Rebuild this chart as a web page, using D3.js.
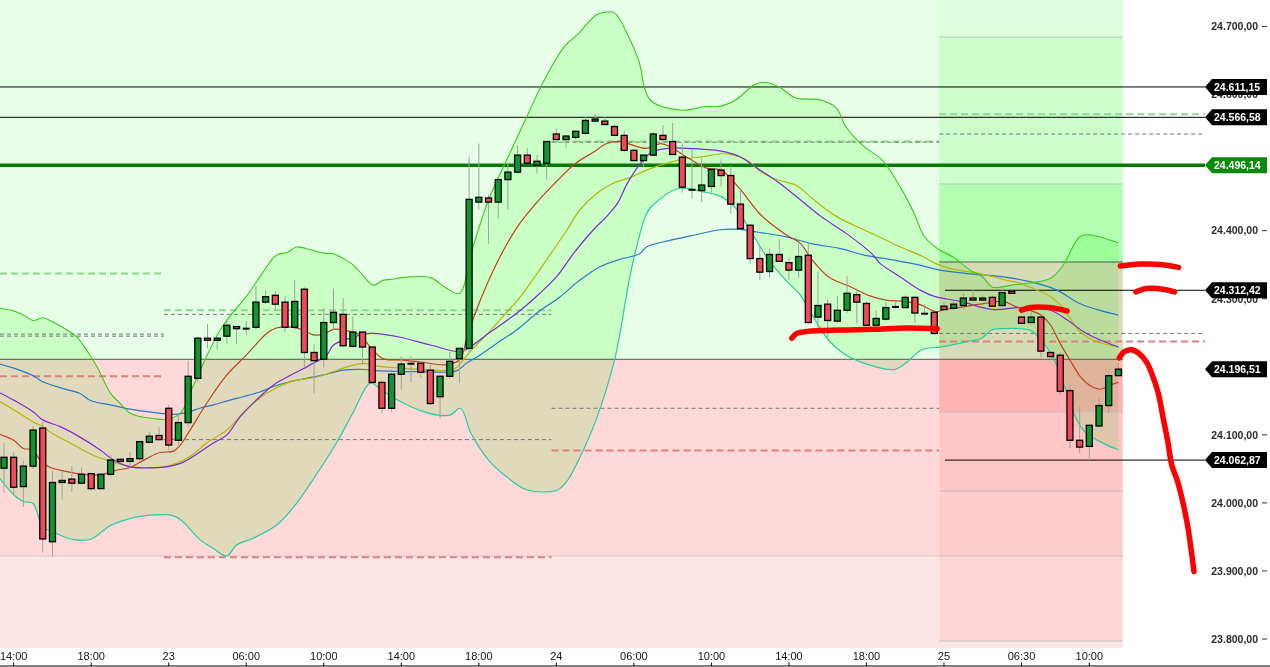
<!DOCTYPE html>
<html><head><meta charset="utf-8">
<script src="https://cdn.jsdelivr.net/npm/d3@7"></script>
<style>
body{margin:0;background:#fff}
svg{display:block}
text{font-family:"Liberation Sans",Arial,sans-serif}
</style>
</head><body>
<svg id="c" width="1270" height="667"></svg>
<script>
// ---------------- DATA ----------------
const timeLabels = ["14:00","18:00","23","06:00","10:00","14:00","18:00","24","06:00","10:00","14:00","18:00","25","06:30","10:00"];
const timeTickIdx = [1,9,17,25,33,41,49,57,65,73,81,89,97,105,112];
const priceTicks = [23800,23900,24000,24100,24300,24400,24600,24700];

const opens  = [24051,24067,24024,24054,24110,23943,24030,24035,24029,24043,24021,24042,24064,24061,24065,24089,24099,24139,24092,24118,
 24183,24242,24239,24245,24259,24256,24258,24295,24305,24295,24258,24314,24221,24211,24265,24277,24230,24251,24229,24177,
 24139,24189,24204,24205,24195,24156,24186,24212,24227,24442,24448,24442,24475,24486,24511,24496,24499,24542,24534,24537,
 24543,24561,24561,24553,24540,24518,24503,24511,24540,24531,24508,24460,24459,24465,24489,24481,24439,24408,24359,24340,
 24365,24353,24342,24364,24273,24292,24267,24283,24306,24293,24261,24270,24288,24287,24302,24278,24280,24289,24286,24290,
 24301,24298,24302,24290,24311,24273,24265,24273,24221,24217,24165,24092,24083,24113,24143,24187];
const highs  = [24088,24075,24062,24113,24119,24047,24046,24054,24052,24044,24044,24070,24066,24075,24092,24105,24111,24144,24128,24209,
 24244,24263,24243,24269,24260,24267,24319,24312,24312,24304,24327,24317,24233,24286,24315,24301,24274,24252,24230,24178,
 24190,24215,24215,24206,24203,24187,24222,24228,24509,24528,24453,24477,24499,24525,24521,24511,24532,24550,24540,24547,
 24567,24571,24567,24556,24547,24521,24512,24545,24555,24558,24528,24519,24508,24491,24505,24495,24461,24409,24378,24374,
 24387,24361,24381,24381,24339,24299,24304,24333,24315,24296,24283,24295,24295,24305,24303,24292,24281,24296,24296,24308,
 24314,24305,24305,24315,24313,24275,24281,24274,24222,24221,24173,24141,24115,24154,24188,24205];
const lows   = [24015,24012,23994,24050,23927,23921,24005,24016,24027,24018,24020,24038,24059,24051,24062,24087,24092,24078,24085,24112,
 24178,24227,24225,24234,24233,24246,24255,24292,24283,24251,24255,24199,24161,24199,24254,24229,24228,24203,24175,24132,
 24134,24166,24177,24184,24144,24124,24183,24176,24222,24431,24381,24418,24431,24484,24498,24484,24475,24533,24522,24534,
 24541,24560,24555,24539,24515,24502,24493,24510,24533,24511,24456,24447,24442,24456,24465,24425,24402,24351,24327,24331,
 24354,24328,24331,24263,24254,24239,24265,24279,24264,24259,24259,24268,24285,24286,24264,24276,24247,24283,24283,24284,
 24297,24297,24288,24289,24307,24262,24264,24214,24214,24159,24080,24073,24063,24112,24132,24186];
const closes = [24067,24023,24054,24107,23947,24030,24033,24029,24042,24021,24042,24063,24061,24065,24090,24098,24093,24085,24118,24186,
 24242,24239,24242,24261,24256,24256,24295,24303,24292,24258,24296,24221,24209,24265,24280,24231,24251,24229,24177,24139,
 24189,24204,24205,24192,24146,24186,24208,24227,24446,24449,24442,24475,24486,24511,24499,24502,24531,24534,24539,24546,
 24562,24564,24556,24540,24518,24503,24511,24542,24534,24512,24464,24460,24467,24490,24481,24439,24403,24359,24339,24365,
 24355,24342,24362,24265,24290,24268,24283,24308,24295,24261,24271,24287,24288,24302,24279,24278,24249,24284,24292,24301,
 24298,24301,24289,24309,24308,24264,24273,24223,24215,24164,24092,24082,24114,24143,24187,24196.51];

// indicator readings: [candle index, price]
const bbUpper = [[-0.45,24286],[1,24282],[2,24276],[3,24268],[4,24272],[5,24266],[6.5,24254],[7.5,24244],[8.5,24225],[9.6,24200],[11,24161],[12,24146],[13,24132],[14,24127],[15.4,24124],[16.8,24123],[18.2,24132],[19.5,24171],[20.9,24215],[22.3,24254],[23.7,24281],[25,24303],[26.4,24332],[28.1,24364],[29.2,24368],[30.2,24376],[31.6,24372],[33,24367],[34,24366],[35,24359],[36,24350],[37,24335],[38.1,24320],[39.1,24327],[40.2,24329],[41,24331],[44,24331],[45.5,24317],[47,24308],[48.2,24367],[50,24445],[52,24508],[53.8,24563],[55.6,24617],[57.8,24670],[59.3,24690],[61.1,24717],[62,24721],[63,24720],[64.5,24684],[65.5,24650],[66.7,24592],[70,24577],[72.2,24582],[74,24583],[75.5,24592],[77.4,24614],[78.4,24618],[80,24611],[81.7,24595],[84.3,24592],[85.9,24580],[86.9,24552],[88.8,24523],[90.6,24504],[92.5,24464],[93.9,24426],[95,24391],[96.5,24372],[98,24361],[99.7,24342],[101,24332],[102,24317],[104,24320],[105.9,24323],[108,24330],[109.2,24347],[111,24391],[111.9,24394],[115,24382]];
const bbLower = [[-0.45,24036],[1,24012],[2,24002],[3,23999],[4,23965],[5.4,23955],[7.2,23946],[9,23947],[11,23967],[13,23977],[14.4,23981],[17.5,23981],[18.5,23972],[20.2,23946],[21.6,23933],[23,23922],[24,23938],[25.7,23948],[28.1,23967],[29.9,23994],[32.3,24043],[34.3,24088],[36,24132],[37.8,24176],[38.8,24168],[40,24156],[43.8,24132],[46,24129],[47.1,24139],[48.2,24102],[50,24063],[51.9,24038],[54,24019],[57.1,24019],[58.2,24034],[59.3,24063],[61.1,24122],[63,24210],[64.8,24347],[66.3,24425],[67,24438],[69.6,24462],[72.2,24457],[74,24450],[75.5,24433],[77,24401],[78.9,24357],[80.7,24327],[82.2,24305],[83.1,24283],[85.1,24239],[86.6,24220],[88.8,24205],[91.9,24196],[93.2,24207],[94.7,24225],[96.6,24229],[99.4,24237],[100.9,24242],[101.9,24254],[103,24256],[106,24253],[107,24239],[107.8,24225],[108.7,24200],[109.7,24161],[110.7,24122],[111.7,24102],[113.1,24090],[114.1,24083],[115,24078]];
const maRed = [[-0.45,24101],[1,24092],[2,24080],[3,24078],[3.7,24063],[4.6,24053],[6.5,24046],[8.2,24042],[9.9,24041],[11.6,24048],[13,24052],[14.7,24065],[16.1,24074],[17.5,24076],[18.2,24085],[19.2,24107],[20.9,24146],[23,24188],[25,24217],[27.1,24249],[28.1,24257],[29.9,24258],[30.9,24254],[31.9,24247],[33,24248],[34,24255],[35,24254],[36.7,24247],[37.8,24229],[39.1,24212],[40.9,24210],[43,24207],[45.6,24203],[47,24210],[47.9,24250],[49.3,24303],[51.2,24362],[53,24406],[54.9,24440],[57,24472],[59,24499],[60.9,24516],[62.2,24528],[63.7,24531],[64.8,24526],[66.3,24521],[67.8,24528],[68.8,24523],[70.7,24506],[72.5,24492],[74,24489],[75.9,24462],[78.1,24423],[80.7,24394],[82.2,24381],[83.3,24359],[85.1,24332],[87.3,24318],[89.2,24305],[91,24298],[92.9,24296],[94.6,24291],[96.2,24281],[97,24284],[99,24288],[100.7,24292],[103.1,24296],[104.5,24288],[105.9,24283],[107,24276],[108,24261],[109,24234],[110,24210],[111.1,24185],[112.1,24172],[113.1,24167],[114.1,24173],[115,24177]];
const maYellow = [[-0.45,24149],[1,24137],[3,24119],[4,24112],[5,24102],[7.2,24085],[9.2,24070],[11,24061],[13.3,24053],[16.4,24053],[17.8,24058],[19.2,24068],[20.9,24088],[23,24107],[25,24137],[27.1,24161],[29.2,24176],[30.5,24181],[32.3,24185],[34,24193],[35.7,24201],[37.1,24205],[38.5,24201],[40.9,24198],[44,24195],[46.4,24196],[47.1,24205],[48.4,24227],[49.8,24247],[51.5,24274],[53.3,24303],[55,24337],[56.7,24372],[58.1,24401],[59.4,24430],[61.2,24455],[62.9,24470],[64.6,24478],[66.3,24489],[69.7,24504],[72.2,24509],[74,24513],[75.3,24511],[76.6,24504],[78.4,24484],[80,24474],[81.7,24467],[83.6,24445],[85.9,24421],[88,24406],[90.3,24391],[92.5,24376],[94.8,24362],[96.1,24352],[98,24343],[100.7,24337],[103.5,24327],[104.8,24323],[106.2,24315],[108,24303],[109.2,24288],[111,24252],[112.4,24239],[115,24229]];
const maPurple = [[-0.45,24162],[1,24151],[3,24134],[4,24122],[5.8,24112],[7.8,24097],[9.9,24078],[11.3,24063],[13,24053],[16.8,24053],[18.2,24058],[19.5,24068],[21.6,24088],[23,24100],[24.4,24127],[26.4,24156],[28.1,24176],[29.9,24190],[31.9,24205],[33.3,24217],[34,24232],[35.7,24242],[37.8,24249],[39.5,24247],[41,24243],[44,24232],[47.1,24222],[48.1,24229],[49.8,24247],[51.5,24264],[53.3,24283],[55.3,24308],[57,24332],[58.8,24367],[60.8,24401],[62.2,24421],[63.3,24440],[64.5,24474],[66.7,24514],[68.5,24521],[70.4,24521],[74,24517],[75.9,24509],[77.7,24492],[80,24470],[82.2,24445],[84.3,24421],[86.9,24396],[89.5,24367],[90.4,24352],[92.5,24332],[94.5,24313],[96.1,24303],[98.7,24296],[102.1,24284],[104.8,24287],[108,24283],[109.7,24269],[111.7,24249],[115,24229]];
const maBlue = [[-0.45,24204],[1,24198],[3,24187],[4,24178],[6.1,24168],[7.8,24161],[9,24150],[11,24144],[13.3,24137],[15.4,24133],[17.5,24130],[18.9,24133],[20.2,24139],[21.6,24144],[23.3,24151],[24.7,24156],[26.4,24163],[27.8,24171],[29.5,24178],[31.2,24183],[33.3,24189],[35,24195],[37.1,24196],[38.8,24194],[42.6,24193],[46.7,24194],[47.7,24205],[49.1,24217],[50.8,24234],[52.9,24254],[55,24279],[57.4,24303],[59.4,24327],[61.5,24347],[63.6,24358],[65.6,24366],[66.3,24376],[68.8,24386],[71.4,24394],[73.7,24401],[75.9,24402],[77.7,24398],[80.7,24391],[83.3,24381],[86.2,24374],[88.8,24364],[91.7,24357],[94.3,24350],[96.6,24342],[99.4,24337],[103.1,24332],[105.9,24325],[108.6,24313],[111,24293],[112.8,24284],[115,24276]];

// background zones
const zoneMainLevels = [24211, 23922];                 // green | pink | light pink
const zoneRightLevels = [24684.5, 24468.6, 24354, 24211, 24133.6, 24017.5, 23922, 23797];
const zoneRightColors = ["#dcffdc","#ccffcc","#b2ffb2","#d6dcb6","#ffb4b4","#ffc6c6","#ffcccc","#ffd6d6","#ffe4e4"];
const dayBounds = [-0.45, 16.5, 56.5, 96.5, 115.45];

// session levels: [dayNo, price]
const greenDashed = [[0,24337],[1,24283],[2,24531],[3,24571]];
const grayDashed  = [[0,24248],[0,24245],[1,24277],[1,24093],[2,24530],[2,24139],[3,24542],[3,24249]];
const redDashed   = [[0,24186],[1,23920],[2,24077],[3,24237]];
const fullLines   = [24611.15, 24566.58];
const greenLine   = 24496.14;
const todayLines  = [24312.42, 24062.87];
const boxLabels   = [24611.15, 24566.58, 24496.14, 24312.42, 24196.51, 24062.87];

// hand-drawn red annotations: [candle index, price]
const strokes = [
 [[81.3,24242],[81.8,24249],[82.9,24252],[86.3,24254],[89.7,24255],[93.1,24257],[96.3,24256]],
 [[105,24283],[105.9,24287],[107.9,24287],[109.7,24282]],
 [[115.2,24348],[117.2,24351],[119.6,24350],[121.2,24346]],
 [[116.8,24310],[117.9,24315],[119.6,24314],[120.8,24310]],
 [[115.1,24213],[115.6,24222],[116.3,24225],[117.1,24220],[117.9,24207],[118.5,24188],[119.1,24162],[119.6,24126],[120.1,24090],[120.5,24056],[121.1,24032],[121.6,24004],[122.1,23970],[122.5,23932],[122.8,23899]]
];

// ---------------- DRAW ----------------
const svg = d3.select("#c");
const x = d3.scaleLinear().domain([0,115]).range([4,1118.4]);
const y = d3.scaleLinear().domain([23800,24700]).range([639,26.5]);
const plotR = 1205, plotB = 648;
const loc = d3.formatLocale({decimal:",", thousands:".", grouping:[3], currency:["",""]});
const fmt = loc.format(",.2f");

const g = svg.append("g");
// main zones
const xz1 = x(dayBounds[3]), xr1 = x(dayBounds[4]);
g.append("rect").attr("x",0).attr("y",0).attr("width",xz1).attr("height",y(zoneMainLevels[0])).attr("fill","#e6ffe6");
g.append("rect").attr("x",0).attr("y",y(zoneMainLevels[0])).attr("width",xz1).attr("height",y(zoneMainLevels[1])-y(zoneMainLevels[0])).attr("fill","#ffd9d9");
g.append("rect").attr("x",0).attr("y",y(zoneMainLevels[1])).attr("width",xz1).attr("height",plotB-y(zoneMainLevels[1])).attr("fill","#ffe6e6");
// right zone
const rEdges = [0, ...zoneRightLevels.map(v=>y(v)), plotB];
zoneRightColors.forEach((c,k)=>{
  g.append("rect").attr("x",xz1).attr("y",rEdges[k]).attr("width",xr1-xz1).attr("height",rEdges[k+1]-rEdges[k]).attr("fill",c);
});

// bollinger band fill
const curve = d3.curveCatmullRom.alpha(0.5);
const ln = d3.line().x(d=>x(d[0])).y(d=>y(d[1])).curve(curve);
const bandPath = ln(bbUpper) + "L" + ln(bbLower.slice().reverse()).slice(1) + "Z";
g.append("path").attr("d",bandPath).attr("fill","#e0ffdc").style("mix-blend-mode","multiply");

// zone boundary lines
g.append("line").attr("x1",0).attr("x2",xr1).attr("y1",y(24211)).attr("y2",y(24211)).attr("stroke","#4a5a4a").attr("stroke-width",1);
g.append("line").attr("x1",0).attr("x2",xz1).attr("y1",y(23922)).attr("y2",y(23922)).attr("stroke","#cfc4c4").attr("stroke-width",1);
zoneRightLevels.forEach(v=>{
  if (v===24211) return;
  g.append("line").attr("x1",xz1).attr("x2",xr1).attr("y1",y(v)).attr("y2",y(v))
   .attr("stroke", v===24354 ? "#4a5a4a" : "#c0c0c0").attr("stroke-width",1);
});

// dashed session levels
function dayX(d){ const a = x(dayBounds[d]); const b = d===3 ? plotR : x(dayBounds[d+1]); return [Math.max(0,a), b]; }
greenDashed.forEach(([d,v])=>{const [a,b]=dayX(d);
  g.append("line").attr("x1",a).attr("x2",b).attr("y1",y(v)).attr("y2",y(v)).attr("stroke","#8cd88c").attr("stroke-width",2).attr("stroke-dasharray","7,4");});
grayDashed.forEach(([d,v])=>{const [a,b]=dayX(d);
  g.append("line").attr("x1",a).attr("x2",b).attr("y1",y(v)).attr("y2",y(v)).attr("stroke","#777").attr("stroke-width",1).attr("stroke-dasharray","4,3");});
redDashed.forEach(([d,v])=>{const [a,b]=dayX(d);
  g.append("line").attr("x1",a).attr("x2",b).attr("y1",y(v)).attr("y2",y(v)).attr("stroke","#dd8080").attr("stroke-width",2).attr("stroke-dasharray","7,4");});

// solid levels
fullLines.forEach(v=>g.append("line").attr("x1",0).attr("x2",plotR).attr("y1",y(v)).attr("y2",y(v)).attr("stroke","#000").attr("stroke-width",1));
g.append("line").attr("x1",0).attr("x2",plotR).attr("y1",y(greenLine)).attr("y2",y(greenLine)).attr("stroke","#087a08").attr("stroke-width",3.5);
todayLines.forEach(v=>g.append("line").attr("x1",x(97.1)).attr("x2",plotR).attr("y1",y(v)).attr("y2",y(v)).attr("stroke","#000").attr("stroke-width",1));

// indicator lines
const lines = [[maBlue,"#2b78c8",1.2],[maYellow,"#b4b800",1.2],[maPurple,"#7b2cd6",1.2],[maRed,"#c2401c",1.2],[bbUpper,"#3cc81e",1.1],[bbLower,"#26cc9c",1.2]];
lines.forEach(([data,col,w])=>g.append("path").attr("d",ln(data)).attr("fill","none").attr("stroke",col).attr("stroke-width",w));

// candles
const cg = g.append("g");
opens.forEach((o,i)=>{
  const c = closes[i], hi = highs[i], lo = lows[i], cx = x(i);
  cg.append("line").attr("x1",cx).attr("x2",cx).attr("y1",y(hi)).attr("y2",y(lo)).attr("stroke","#a0a0a0").attr("stroke-width",1);
  if (Math.abs(c-o) < 1.6) {
    cg.append("line").attr("x1",cx-3.5).attr("x2",cx+3.5).attr("y1",y((o+c)/2)).attr("y2",y((o+c)/2)).attr("stroke","#000").attr("stroke-width",2);
  } else {
    const top = y(Math.max(o,c)), bot = y(Math.min(o,c));
    cg.append("rect").attr("x",cx-3).attr("y",top).attr("width",6).attr("height",Math.max(1,bot-top))
      .attr("fill", c>o ? "#10962e" : "#f04a58").attr("stroke","#000").attr("stroke-width",1.3);
  }
});

// hand-drawn strokes
strokes.forEach(s=>g.append("path").attr("d",ln(s)).attr("fill","none").attr("stroke","#ff0000").attr("stroke-width",5.5).attr("stroke-linecap","round").attr("stroke-linejoin","round"));

// right axis
const ax = svg.append("g");
priceTicks.forEach(t=>{
  ax.append("text").attr("x",1258).attr("y",y(t)+3.8).attr("text-anchor","end").attr("font-size",10.5).attr("font-weight","bold").attr("fill","#2a2a2a").text(fmt(t));
  ax.append("line").attr("x1",1262).attr("x2",1267).attr("y1",y(t)).attr("y2",y(t)).attr("stroke","#333").attr("stroke-width",1);
});
boxLabels.forEach(v=>{
  const yy = y(v), green = v===greenLine;
  ax.append("path").attr("d",`M1205,${yy} L1212,${yy-8} L1267,${yy-8} L1267,${yy+8} L1212,${yy+8} Z`).attr("fill", green ? "#0a8a0a" : "#000");
  ax.append("text").attr("x",1214).attr("y",yy+4).attr("font-size",10.5).attr("font-weight","bold").attr("fill","#fff").text(fmt(v));
});

// bottom time axis
const bx = svg.append("g");
bx.append("line").attr("x1",0).attr("x2",1270).attr("y1",666).attr("y2",666).attr("stroke","#000").attr("stroke-width",1);
timeTickIdx.forEach((ti,k)=>{
  const px = x(ti);
  bx.append("line").attr("x1",px).attr("x2",px).attr("y1",662.5).attr("y2",666).attr("stroke","#000");
  bx.append("text").attr("x",px).attr("y",660).attr("text-anchor","middle").attr("font-size",11).attr("fill","#111").text(timeLabels[k]);
});
</script>
</body></html>
